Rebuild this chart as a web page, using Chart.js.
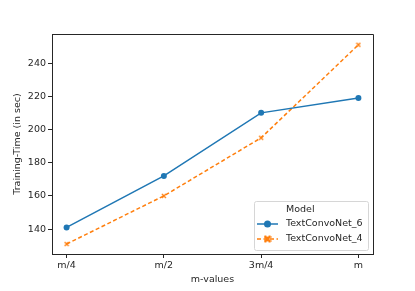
<!DOCTYPE html>
<html>
<head>
<meta charset="utf-8">
<script src="https://cdn.jsdelivr.net/npm/chart.js@4/dist/chart.umd.min.js"></script>
<style>
  html, body { margin: 0; padding: 0; background: #fff; }
  #wrap { width: 415px; height: 291px; position: relative; }
</style>
</head>
<body>
<div id="wrap"><canvas id="c"></canvas></div>
<script>
const categories = ["m/4", "m/2", "3m/4", "m"];
const net6 = [141, 172, 210, 219];
const net4 = [131, 160, 195, 251];
const yTicks = [140, 160, 180, 200, 220, 240];

const FONT = "'DejaVu Sans', sans-serif";
const INK = "#262626";

const toPoints = (vals) => vals.map((y, i) => ({ x: i, y }));

// seaborn-ish "x" marker for the second series
function crossMarker(size, lw) {
  const c = document.createElement("canvas");
  c.width = c.height = size;
  const g = c.getContext("2d");
  g.strokeStyle = "#ff7f0e";
  g.lineWidth = lw;
  g.beginPath();
  g.moveTo(1, 1); g.lineTo(size - 1, size - 1);
  g.moveTo(size - 1, 1); g.lineTo(1, size - 1);
  g.stroke();
  return c;
}

// top/right spines, matplotlib draws a full box
const frame = {
  id: "frame",
  afterDatasetsDraw(chart) {
    const { ctx, chartArea: a } = chart;
    ctx.save();
    ctx.strokeStyle = INK;
    ctx.lineWidth = 1;
    ctx.beginPath();
    ctx.moveTo(Math.round(a.left) + 0.5, Math.round(a.top) + 0.5);
    ctx.lineTo(Math.round(a.right) + 0.5, Math.round(a.top) + 0.5);
    ctx.lineTo(Math.round(a.right) + 0.5, Math.round(a.bottom) + 0.5);
    ctx.stroke();
    ctx.restore();
  }
};

const legendInside = {
  id: "legendInside",
  afterDraw(chart) {
    const { ctx, chartArea } = chart;
    const w = 114, h = 49;
    const x = chartArea.right - w - 5, y = chartArea.bottom - h - 4;
    ctx.save();
    ctx.fillStyle = "rgba(255,255,255,0.8)";
    ctx.strokeStyle = "#d6d6d6";
    ctx.lineWidth = 1;
    ctx.beginPath();
    ctx.roundRect(x + 0.5, y + 0.5, w, h, 2);
    ctx.fill();
    ctx.stroke();

    ctx.font = "9.5px " + FONT;
    ctx.fillStyle = INK;
    ctx.textBaseline = "middle";
    ctx.textAlign = "left";
    ctx.fillText("Model", x + 32, y + 9);

    const rows = [
      { label: "TextConvoNet_6", color: "#1f77b4", dash: [], mark: "dot" },
      { label: "TextConvoNet_4", color: "#ff7f0e", dash: [4, 2.5], mark: "x" },
    ];
    rows.forEach((r, i) => {
      const ly = y + 23 + i * 15;
      ctx.strokeStyle = r.color;
      ctx.lineWidth = 1.5;
      ctx.setLineDash(r.dash);
      ctx.beginPath();
      ctx.moveTo(x + 3, ly);
      ctx.lineTo(x + 24, ly);
      ctx.stroke();
      ctx.setLineDash([]);
      ctx.fillStyle = r.color;
      if (r.mark === "dot") {
        ctx.beginPath();
        ctx.arc(x + 13.5, ly, 3.5, 0, Math.PI * 2);
        ctx.fill();
      } else {
        ctx.drawImage(crossMarker(8, 2.6), x + 9.5, ly - 4);
      }
      ctx.fillStyle = INK;
      ctx.fillText(r.label, x + 32, ly);
    });
    ctx.restore();
  }
};

new Chart(document.getElementById("c"), {
  type: "line",
  data: {
    datasets: [
      {
        label: "TextConvoNet_6",
        data: toPoints(net6),
        borderColor: "#1f77b4",
        backgroundColor: "#1f77b4",
        borderWidth: 1.5,
        pointRadius: 3,
        pointStyle: "circle",
        pointBorderWidth: 0,
      },
      {
        label: "TextConvoNet_4",
        data: toPoints(net4),
        borderColor: "#ff7f0e",
        backgroundColor: "#ff7f0e",
        borderWidth: 1.5,
        borderDash: [4, 2.5],
        pointStyle: crossMarker(6, 1.3),
      },
    ],
  },
  options: {
    responsive: true,
    maintainAspectRatio: false,
    animation: false,
    layout: { padding: { top: 34, right: 42, left: 12, bottom: 6 } },
    plugins: {
      legend: { display: false },
      tooltip: { enabled: false },
    },
    scales: {
      x: {
        type: "linear",
        min: -0.15,
        max: 3.15,
        afterBuildTicks: (s) => { s.ticks = categories.map((_, i) => ({ value: i })); },
        afterFit: (s) => { s.height = 31; },
        grid: { drawOnChartArea: false, tickLength: 4, color: INK },
        border: { color: INK, width: 1 },
        ticks: {
          callback: (v) => categories[v],
          color: INK,
          font: { family: FONT, size: 9.5 },
          padding: 2,
          maxRotation: 0,
        },
        title: {
          display: true,
          text: "m-values",
          color: INK,
          font: { family: FONT, size: 9.5 },
          padding: { top: 2, bottom: 0 },
        },
      },
      y: {
        min: 125,
        max: 257.5,
        afterBuildTicks: (s) => { s.ticks = yTicks.map((v) => ({ value: v })); },
        afterFit: (s) => { s.width = 40; },
        grid: { drawOnChartArea: false, tickLength: 4, color: INK },
        border: { color: INK, width: 1 },
        ticks: {
          color: INK,
          font: { family: FONT, size: 9.5 },
          padding: 2,
        },
        title: {
          display: true,
          text: "Training-Time (in sec)",
          color: INK,
          font: { family: FONT, size: 9.5 },
          padding: { top: 0, bottom: 4 },
        },
      },
    },
  },
  plugins: [frame, legendInside],
});
</script>
</body>
</html>
